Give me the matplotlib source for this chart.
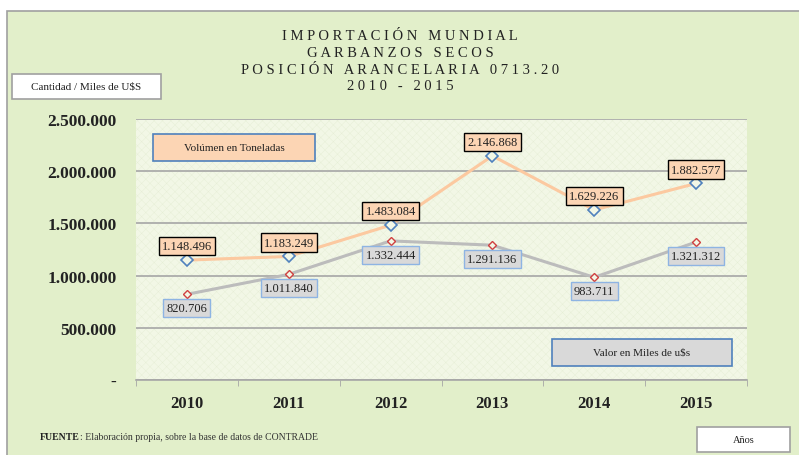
import matplotlib
matplotlib.use("Agg")
import matplotlib.pyplot as plt
from matplotlib.patches import Rectangle

years = ["2010", "2011", "2012", "2013", "2014", "2015"]
volumen = [1148496, 1183249, 1483084, 2146868, 1629226, 1882577]
valor = [820706, 1011840, 1332444, 1291136, 983711, 1321312]
yticks = [0, 500000, 1000000, 1500000, 2000000, 2500000]
ytick_labels = ["-", "500.000", "1.000.000", "1.500.000", "2.000.000", "2.500.000"]

title_lines = ["IMPORTACIÓN MUNDIAL", "GARBANZOS SECOS",
               "POSICIÓN ARANCELARIA 0713.20", "2010 - 2015"]

W, H = 799, 456


def fmt(v):
    return f"{v:,}".replace(",", ".")


def spaced(s):
    return "   ".join(" ".join(w) for w in s.split(" "))


def box(x0, y0, x1, y1, text, fc, ec, size=8):
    # pixel coords, y measured from the top
    fig.add_artist(Rectangle((x0 / W, 1 - y1 / H), (x1 - x0) / W, (y1 - y0) / H,
                             transform=fig.transFigure, fc=fc, ec=ec, lw=1.2, zorder=5))
    fig.text((x0 + x1) / 2 / W, 1 - (y0 + y1) / 2 / H, text, ha="center", va="center",
             fontsize=size, family=serif, color="#222222", zorder=6)


panel = "#e2efca"
serif = ["Liberation Serif", "DejaVu Serif"]
plt.rcParams["hatch.linewidth"] = 0.3

fig = plt.figure(figsize=(7.99, 4.56), dpi=100)
fig.patch.set_facecolor("white")
# green outer panel
fig.add_artist(Rectangle((7 / W, -0.05), 1.0, 1 - 12 / H + 0.05,
                         transform=fig.transFigure, facecolor=panel,
                         edgecolor="#a0a0a0", lw=1.2, zorder=0))

ax = fig.add_axes([136 / W, 75 / H, 611 / W, 261 / H])
ax.set_facecolor("#f2f7e6")
ax.add_patch(Rectangle((0, 0), 1, 1, transform=ax.transAxes, facecolor="none",
                       edgecolor="#e6eed6", hatch="xxxx", lw=0, zorder=0))

x = list(range(len(years)))
ax.plot(x, volumen, color="#fcc9a0", lw=2.2, zorder=3)
ax.plot(x, volumen, ls="none", marker="D", ms=6, mfc="#f2f7e6", mec="#4f81bd",
        mew=1.2, zorder=4)
ax.plot(x, valor, color="#bcbcbc", lw=2.2, zorder=3)
ax.plot(x, valor, ls="none", marker="D", ms=4.5, mfc="#f2f7e6", mec="#d04040",
        mew=1.0, zorder=4)

for xi, v in zip(x, volumen):
    ax.annotate(fmt(v), (xi, v), xytext=(0, 10), textcoords="offset points",
                ha="center", va="center", fontsize=9, family=serif, color="#222222",
                bbox=dict(boxstyle="square,pad=0.25", fc="#fcd5b4", ec="black", lw=1),
                zorder=5)
for xi, v in zip(x, valor):
    ax.annotate(fmt(v), (xi, v), xytext=(0, -10), textcoords="offset points",
                ha="center", va="center", fontsize=9, family=serif, color="#222222",
                bbox=dict(boxstyle="square,pad=0.25", fc="#d9d9d9", ec="#8eb4e3", lw=1),
                zorder=5)

ax.set_xlim(-0.5, len(years) - 0.5)
ax.set_ylim(0, 2500000)
ax.set_yticks(yticks)
ax.set_yticklabels(ytick_labels, family=serif, fontsize=12.5, fontweight="bold",
                   color="#222222")
ax.yaxis.grid(True, color="#a6a6a6", lw=1.2)
ax.set_axisbelow(True)
ax.tick_params(axis="y", length=0, pad=14)
ax.set_xticks(x)
ax.set_xticklabels(years, family=serif, fontsize=12, fontweight="bold", color="#222222")
ax.set_xticks([i - 0.5 for i in range(len(years) + 1)], minor=True)
ax.tick_params(axis="x", which="major", length=0, pad=11)
ax.tick_params(axis="x", which="minor", length=4, color="#a6a6a6")
for s in ["left", "right", "top"]:
    ax.spines[s].set_visible(False)
ax.spines["bottom"].set_color("#a6a6a6")
ax.spines["bottom"].set_linewidth(1.2)

# title
for i, line in enumerate(title_lines):
    fig.text(400 / W, 1 - (37 + i * 16.5) / H, spaced(line), ha="center",
             va="center", fontsize=10.5, family=serif, color="#222222")

# boxes
box(12, 75, 161, 100, "Cantidad / Miles de U$S", "white", "#a0a0a0")
box(153, 135, 315, 162, "Volúmen en Toneladas", "#fcd5b4", "#4f81bd")
box(552, 340, 732, 367, "Valor en Miles de u$s", "#d9d9d9", "#4f81bd")
box(697, 428, 790, 453, "Años", "white", "#a0a0a0", size=7.5)

# source note: bold "FUENTE" followed by regular text on the same baseline
y_src = 1 - 440 / H
t1 = fig.text(40 / W, y_src, "FUENTE", ha="left", va="baseline", fontsize=7,
              family=serif, fontweight="bold", color="#222222")
fig.add_artist(plt.Annotation(": Elaboración propia, sobre la base de datos de CONTRADE",
                              xy=(1, y_src), xycoords=(t1, "figure fraction"),
                              ha="left", va="baseline", fontsize=7, family=serif,
                              color="#333333"))

fig.savefig("out.png", dpi=100)
